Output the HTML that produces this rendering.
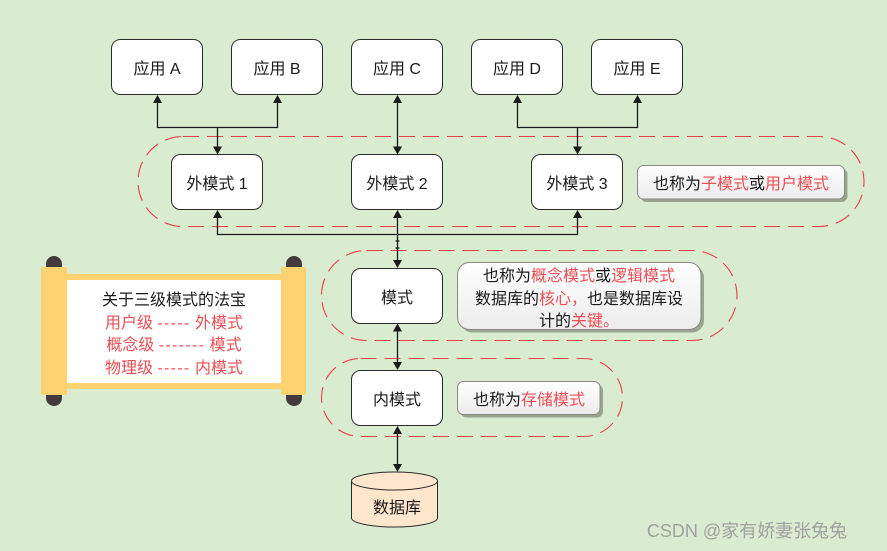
<!DOCTYPE html>
<html><head><meta charset="utf-8"><style>
html,body{margin:0;padding:0;background:#d9ecd0}
svg{display:block}
text{font-family:"Liberation Sans","Noto Sans CJK SC",sans-serif;font-size:16px;fill:#1a1a1a;text-anchor:middle}
.r{fill:#ea4f55}
tspan.r{fill:#ea4f55}
.d{letter-spacing:1.3px}
.b{fill:#fff;stroke:#2b2b2b;stroke-width:1}
.p{fill:none;stroke:#ea3f47;stroke-width:1.1;stroke-dasharray:16 8}
.l{fill:none;stroke:#1a1a1a;stroke-width:1.3}
.c{fill:url(#g);stroke:#888;stroke-width:1}
.s{fill:#9aa58f}
.a{fill:#1a1a1a}
</style></head><body>
<svg width="887" height="551" viewBox="0 0 887 551" xmlns="http://www.w3.org/2000/svg">
<defs><linearGradient id="g" x1="0" y1="0" x2="0" y2="1"><stop offset="0" stop-color="#fff"/><stop offset="1" stop-color="#ececec"/></linearGradient></defs>
<rect width="887" height="551" fill="#d9ecd0"/>

<rect class="p" x="138" y="136.5" width="726" height="90" rx="45"/>
<rect class="p" x="321.5" y="250.5" width="415.5" height="90" rx="45"/>
<rect class="p" x="321.5" y="358.5" width="301" height="78" rx="39"/>

<path class="l" d="M157.5 100V127.5H277.5V100M217.5 127.5V148M397.5 100V148M517.5 100V127.5H637.5V100M577.5 127.5V148"/>
<path class="l" d="M217.5 216V234.5H577.5V216M397.5 216V262M397.5 330V364M397.5 432V466"/>
<path class="l" d="M395.5 241H399.5M395.5 248H399.5"/>

<g class="a">
<path d="M157.5 95l-4.5 8h9zM277.5 95l-4.5 8h9zM397.5 95l-4.5 8h9zM517.5 95l-4.5 8h9zM637.5 95l-4.5 8h9z"/>
<path d="M217.5 154.500l-4.500-8h9zM397.500 154.500l-4.500-8h9zM577.500 154.500l-4.500-8h9z"/>
<path d="M217.5 210l-4.500 8h9zM397.500 210l-4.500 8h9zM577.500 210l-4.500 8h9z"/>
<path d="M397.500 268l-4.500-8h9zM397.500 323.500l-4.500 8h9zM397.500 370l-4.500-8h9zM397.500 426l-4.500 8h9zM397.500 472l-4.500-8h9z"/>
</g>

<rect class="b" x="111.500" y="39.500" width="91" height="55" rx="9"/>
<rect class="b" x="231.500" y="39.500" width="91" height="55" rx="9"/>
<rect class="b" x="351.500" y="39.500" width="91" height="55" rx="9"/>
<rect class="b" x="471.500" y="39.500" width="91" height="55" rx="9"/>
<rect class="b" x="591.500" y="39.500" width="91" height="55" rx="9"/>
<rect class="b" x="171.500" y="154.500" width="91" height="55" rx="9"/>
<rect class="b" x="351.500" y="154.500" width="91" height="55" rx="9"/>
<rect class="b" x="531.500" y="154.500" width="91" height="55" rx="9"/>
<rect class="b" x="351.500" y="268.500" width="91" height="55" rx="9"/>
<rect class="b" x="351.500" y="370.500" width="91" height="55" rx="9"/>

<text x="157" y="74">应用 A</text>
<text x="277" y="74">应用 B</text>
<text x="397" y="74">应用 C</text>
<text x="517" y="74">应用 D</text>
<text x="637" y="74">应用 E</text>
<text x="217" y="189">外模式 1</text>
<text x="397" y="189">外模式 2</text>
<text x="577" y="189">外模式 3</text>
<text x="397" y="303">模式</text>
<text x="397" y="405">内模式</text>

<path d="M351.500 481V518C351.500 523 371 527 394.500 527S437.500 523 437.500 518V481C437.500 476 418 472 394.500 472S351.500 476 351.500 481Z" fill="#ffe6cc" stroke="#2b2b2b"/>
<path d="M351.500 481C351.500 486 371 490 394.500 490S437.500 486 437.500 481" fill="none" stroke="#2b2b2b"/>
<text x="397" y="513">数据库</text>

<rect class="s" x="640.500" y="168.500" width="207" height="33.500" rx="6"/>
<rect class="c" x="637.500" y="165.500" width="207" height="33.500" rx="6"/>
<text x="741" y="189">也称为<tspan class="r">子模式</tspan>或<tspan class="r">用户模式</tspan></text>

<rect class="s" x="460.500" y="265.500" width="243.500" height="67" rx="12"/>
<rect class="c" x="457.500" y="262.500" width="243.500" height="67" rx="12"/>
<text x="579" y="281">也称为<tspan class="r">概念模式</tspan>或<tspan class="r">逻辑模式</tspan></text>
<text x="579" y="304">数据库的<tspan class="r">核心，</tspan>也是数据库设</text>
<text x="579" y="326">计的<tspan class="r">关键。</tspan></text>

<rect class="s" x="460.500" y="384.500" width="142.500" height="33" rx="6"/>
<rect class="c" x="457.500" y="381.500" width="142.500" height="33" rx="6"/>
<text x="529" y="405">也称为<tspan class="r">存储模式</tspan></text>

<rect x="46" y="256" width="16" height="20" rx="8" fill="#433b3b"/>
<rect x="286" y="256" width="16" height="20" rx="8" fill="#433b3b"/>
<rect x="46" y="388" width="16" height="18" rx="8" fill="#433b3b"/>
<rect x="286" y="388" width="16" height="18" rx="8" fill="#433b3b"/>
<rect x="60" y="274" width="230" height="115" fill="#ffd271"/>
<rect x="67" y="280" width="214" height="103" fill="#fff"/>
<rect x="41" y="267" width="26" height="128" rx="1.500" fill="#ffd271"/>
<rect x="281" y="267" width="25" height="128" rx="1.500" fill="#ffd271"/>
<text x="174" y="305">关于三级模式的法宝</text>
<text x="174" y="328" class="r">用户级 <tspan class="d">-----</tspan> 外模式</text>
<text x="174" y="350" class="r">概念级 <tspan class="d">-------</tspan> 模式</text>
<text x="174" y="373" class="r">物理级 <tspan class="d">-----</tspan> 内模式</text>

<text x="747" y="537" style="font-size:18px;fill:#a0a0a0">CSDN @家有娇妻张兔兔</text>
</svg>
</body></html>
